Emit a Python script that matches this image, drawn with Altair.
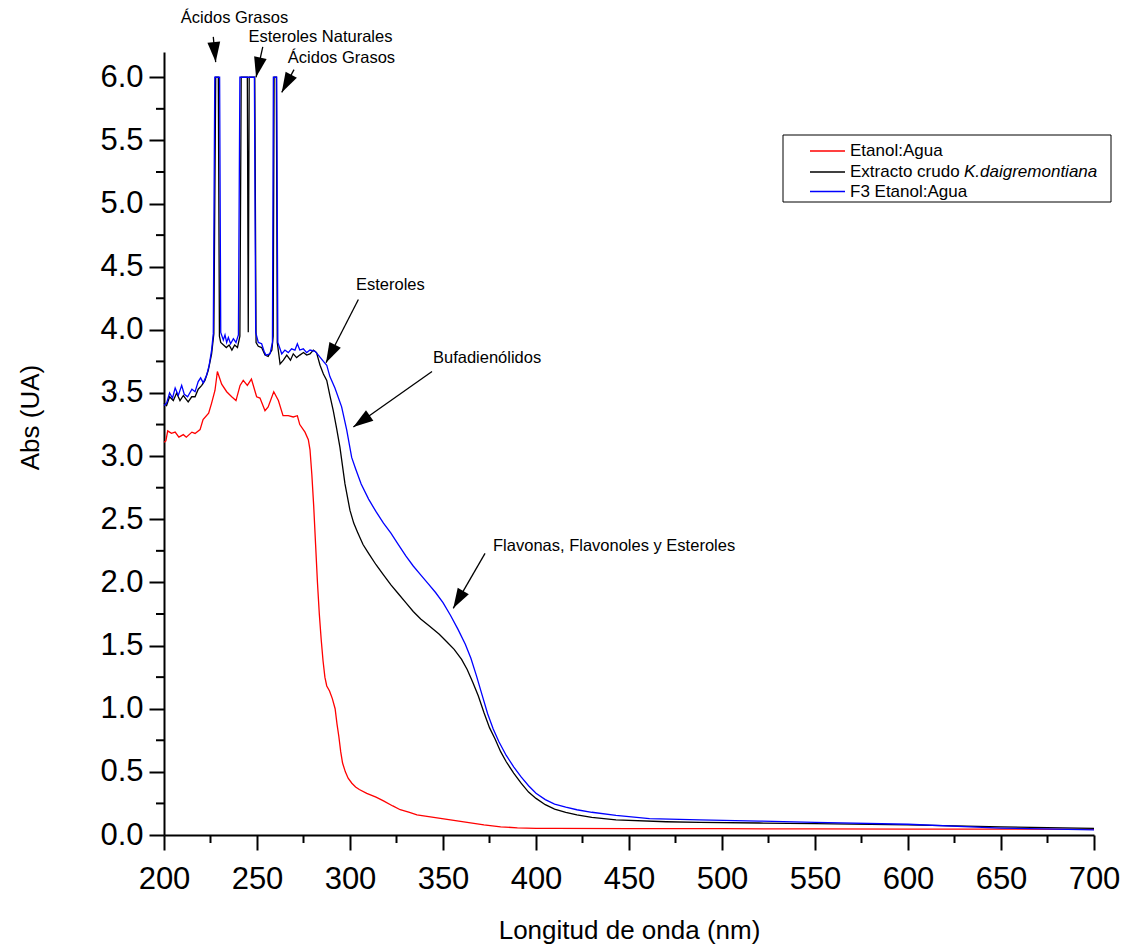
import math
import altair as alt
import pandas as pd

# ---------------- data ----------------
wl_red = [200, 201, 202, 204, 206, 208, 210.4, 212, 215, 216.7, 219.4, 221, 224, 225.6, 227.4,
          228.7, 231, 233.7, 236.4, 238.7, 240.9, 242.6, 244.8, 247, 249.8, 251.6, 254.3, 256,
          259, 261.5, 264, 266.8, 269.5, 271.7, 273, 275.8, 277.6, 278.5, 279.5, 280.5, 281.5,
          282.5, 283.5, 284.5, 285.5, 286.5, 287.5, 289, 290.5, 292, 293, 294, 295, 296, 297.5,
          299, 301, 303, 305, 309, 314, 318, 323, 327, 332, 336, 345, 354, 363, 372, 381, 390,
          400, 410, 450, 500, 550, 600, 650, 700]
abs_red = [3.11, 3.12, 3.20, 3.18, 3.19, 3.15, 3.17, 3.15, 3.19, 3.18, 3.21, 3.29, 3.34, 3.42, 3.52,
           3.67, 3.57, 3.51, 3.47, 3.44, 3.56, 3.60, 3.56, 3.61, 3.47, 3.46, 3.36, 3.39,
           3.51, 3.44, 3.32, 3.32, 3.31, 3.32, 3.25, 3.19, 3.13, 3.05, 2.85, 2.60, 2.30,
           2.00, 1.75, 1.55, 1.38, 1.25, 1.18, 1.14, 1.08, 1.00, 0.88, 0.78, 0.66, 0.57, 0.50,
           0.45, 0.41, 0.38, 0.36, 0.33, 0.30, 0.27, 0.23, 0.20, 0.18, 0.16, 0.14, 0.12, 0.10, 0.08, 0.065, 0.057,
           0.053, 0.052, 0.05, 0.05, 0.048, 0.047, 0.046, 0.045]

wl_blk = [200, 201.4, 203, 205, 206.8, 208.6, 210.4, 213, 214.9, 216.7, 218.4, 220.3, 222, 223.8,
          225.6, 226.8, 227.8, 229.2, 229.8, 230.5, 232, 233.5, 235, 236.5, 238, 239.5, 240.8,
          241.5, 244.8, 245.3, 245.8, 248.8, 249.5, 250.7, 252.5, 254.3, 256, 258, 258.7, 259.2,
          260.4, 260.9, 262.4, 264.2, 266, 268, 269.5, 271.3, 273, 275, 276.7, 278.5, 280.3, 282,
          283.9, 285.7, 287.5, 289.2, 291, 292.8, 294.6, 297.3, 300, 302, 304, 307, 310, 314,
          318, 322, 326, 330, 334, 338, 343, 348, 352, 356, 360, 363, 366, 369, 372, 375, 378,
          381, 384, 388, 392, 396, 400, 405, 410, 416, 422, 430, 443, 470, 488, 520, 550, 600,
          650, 700]
abs_blk = [3.42, 3.40, 3.47, 3.44, 3.50, 3.44, 3.48, 3.43, 3.47, 3.47, 3.53, 3.56, 3.60, 3.68,
           3.81, 3.97, 6.0, 6.0, 3.95, 3.90, 3.88, 3.86, 3.88, 3.84, 3.88, 3.86, 3.95,
           6.0, 6.0, 3.98, 6.0, 6.0, 3.90, 3.87, 3.86, 3.80, 3.79, 3.84, 3.95, 6.0,
           6.0, 3.90, 3.73, 3.76, 3.80, 3.76, 3.81, 3.78, 3.80, 3.82, 3.80, 3.81, 3.84, 3.82,
           3.72, 3.65, 3.60, 3.48, 3.36, 3.22, 3.07, 2.78, 2.57, 2.47, 2.40, 2.30, 2.23, 2.14,
           2.06, 1.98, 1.91, 1.84, 1.77, 1.71, 1.65, 1.59, 1.53, 1.47, 1.39, 1.31, 1.21, 1.10,
           0.97, 0.85, 0.76, 0.66, 0.58, 0.49, 0.41, 0.34, 0.29, 0.24, 0.205, 0.18, 0.16, 0.14,
           0.12, 0.105, 0.10, 0.095, 0.09, 0.08, 0.065, 0.053]

wl_blu = [200, 201.4, 203, 204.6, 206, 207.7, 209.5, 210.9, 212.7, 215, 216.7, 218.4, 219.7, 221.1,
          222.9, 224.3, 225.6, 226.5, 227.3, 229.9, 230.5, 231.9, 232.8, 233.7, 234.6, 235.8, 237.3,
          238.7, 240, 240.8, 248.6, 249.3, 250.7, 252.5, 253.8, 254.8, 257, 258.3, 258.8, 260.6,
          261.2, 263.3, 265, 266.8, 268.6, 270.4, 271.7, 273, 274.9, 276.7, 278.5, 281.2, 283,
          285.7, 287.5, 289.2, 291.9, 295.5, 298.2, 300.9, 303, 306, 310, 314, 318, 322, 326,
          330, 334, 338, 342, 346, 350, 354, 358, 362, 365, 368, 371, 374, 377, 380, 384, 388,
          392, 396, 400, 405, 410, 416, 422, 430, 443, 461, 488, 520, 550, 600, 650, 700]
abs_blu = [3.40, 3.42, 3.50, 3.46, 3.54, 3.48, 3.56, 3.49, 3.47, 3.53, 3.51, 3.59, 3.62, 3.58,
           3.64, 3.72, 3.84, 3.97, 6.0, 6.0, 3.98, 3.92, 3.96, 3.90, 3.94, 3.89, 3.93,
           3.90, 3.96, 6.0, 6.0, 3.98, 3.90, 3.89, 3.83, 3.80, 3.81, 3.90, 6.0, 6.0,
           3.90, 3.81, 3.84, 3.82, 3.85, 3.84, 3.89, 3.84, 3.85, 3.82, 3.84, 3.83, 3.80,
           3.75, 3.72, 3.63, 3.54, 3.39, 3.21, 2.99, 2.90, 2.78, 2.66, 2.56, 2.47, 2.39, 2.30,
           2.21, 2.13, 2.06, 1.99, 1.92, 1.84, 1.74, 1.63, 1.51, 1.40, 1.26, 1.11, 0.96, 0.84,
           0.74, 0.63, 0.54, 0.46, 0.39, 0.33, 0.28, 0.245, 0.22, 0.20, 0.18, 0.155, 0.13, 0.12,
           0.11, 0.10, 0.085, 0.055, 0.04]

series_names = ["Etanol:Agua", "Extracto crudo ", "F3 Etanol:Agua"]
series_colors = ["#ff0000", "#000000", "#0000ff"]
legend_italic = "K.daigremontiana"

x_major = list(range(200, 701, 50))
x_minor = list(range(225, 700, 50))
y_major = [i * 0.5 for i in range(13)]
y_minor = [0.25 + i * 0.5 for i in range(12)]

# annotations: text, x, y, align
ann_text = ["Ácidos Grasos", "Esteroles Naturales", "Ácidos Grasos", "Esteroles",
            "Bufadienólidos", "Flavonas, Flavonoles y Esteroles"]
ann_x = [237.9, 284.1, 295.4, 303.2, 344.6, 376.9]
ann_y = [6.47, 6.315, 6.15, 4.355, 3.777, 2.29]
ann_align = ["center", "center", "center", "left", "left", "left"]
# arrows: tail -> tip
arr_x1 = [226.5, 253.1, 269.9, 304.5, 344.1, 372.6]
arr_y1 = [6.32, 6.24, 6.06, 4.24, 3.67, 2.23]
arr_x2 = [227.8, 249.5, 263.3, 287.1, 301.8, 355.5]
arr_y2 = [6.12, 6.0, 5.88, 3.74, 3.23, 1.795]

# ---------------- layout ----------------
W, H = 930, 783
XMIN, XMAX = 200, 700
YMIN, YMAX = 0, 6.2
FONT = "Liberation Sans"
PX_X = W / (XMAX - XMIN)
PX_Y = H / (YMAX - YMIN)

xscale = alt.Scale(domain=[XMIN, XMAX], nice=False, zero=False)
yscale = alt.Scale(domain=[YMIN, YMAX], nice=False, zero=False)

common_axis = dict(grid=False, tickWidth=2, domainWidth=2, domainColor="black", tickColor="black",
                   labelColor="black", titleColor="black", labelFont=FONT, titleFont=FONT,
                   titleFontWeight="normal", labelFlush=False, labelOverlap=False)
xaxis = alt.Axis(values=x_major, title="Longitud de onda (nm)", tickSize=15, labelFontSize=31,
                 labelPadding=14, titleFontSize=26, titlePadding=23, **common_axis)
yaxis = alt.Axis(values=y_major, format=".1f", title="Abs (UA)", tickSize=15, labelFontSize=31,
                 labelPadding=6, titleFontSize=26, titleX=-134, titleY=365,
                 titleBaseline="middle", titleAngle=270, **common_axis)

X = lambda f: alt.X(f, scale=xscale, axis=xaxis)
Y = lambda f: alt.Y(f, scale=yscale, axis=yaxis)


def series(wl, ab, color):
    df = pd.DataFrame({"wl": wl, "ab": ab, "i": list(range(len(wl)))})
    return alt.Chart(df).mark_line(color=color, strokeWidth=1.3).encode(
        x=X("wl:Q"), y=Y("ab:Q"), order="i:Q")


layers = [
    series(wl_red, abs_red, series_colors[0]),
    series(wl_blk, abs_blk, series_colors[1]),
    series(wl_blu, abs_blu, series_colors[2]),
]

# minor ticks
layers.append(alt.Chart(pd.DataFrame({"v": x_minor})).mark_rule(color="black", strokeWidth=2).encode(
    x=X("v:Q"), y=alt.value(H), y2=alt.value(H + 8)))
layers.append(alt.Chart(pd.DataFrame({"v": y_minor})).mark_rule(color="black", strokeWidth=2).encode(
    y=Y("v:Q"), x=alt.value(0), x2=alt.value(-8)))

# annotations
ann_df = pd.DataFrame({"t": ann_text, "x": ann_x, "y": ann_y, "al": ann_align})
for al in ["center", "left"]:
    layers.append(alt.Chart(ann_df).transform_filter(alt.datum.al == al).mark_text(
        align=al, baseline="middle", font=FONT, fontSize=16.5, color="black").encode(
        x=X("x:Q"), y=Y("y:Q"), text="t:N"))

angles = []
for a, b, c, d in zip(arr_x1, arr_y1, arr_x2, arr_y2):
    dx = (c - a) * PX_X
    dy = -(d - b) * PX_Y
    angles.append(math.degrees(math.atan2(dx, -dy)) % 360)
arr_df = pd.DataFrame({"x": arr_x1, "y": arr_y1, "x2": arr_x2, "y2": arr_y2, "ang": angles})
layers.append(alt.Chart(arr_df).mark_rule(color="black", strokeWidth=1.3).encode(
    x=X("x:Q"), y=Y("y:Q"), x2="x2:Q", y2="y2:Q"))
layers.append(alt.Chart(arr_df).mark_point(
    shape="M0,0L0.64,2L-0.64,2Z", filled=True, size=400, color="black", opacity=1, strokeWidth=0).encode(
    x=X("x2:Q"), y=Y("y2:Q"), angle=alt.Angle("ang:Q", scale=None)))

# legend box
LX0, LX1, LY0, LY1 = 619, 947, 83, 150
ROW_Y = [99, 120, 139.5]
layers.append(alt.Chart(pd.DataFrame({"a": [0]})).mark_rect(
    fill="white", stroke="black", strokeWidth=1).encode(
    x=alt.value(LX0), x2=alt.value(LX1), y=alt.value(LY0), y2=alt.value(LY1)))
for name, col, ry in zip(series_names, series_colors, ROW_Y):
    rowdf = pd.DataFrame({"t": [name]})
    layers.append(alt.Chart(rowdf).mark_rule(color=col, strokeWidth=1.3).encode(
        x=alt.value(646), x2=alt.value(681), y=alt.value(ry)))
    layers.append(alt.Chart(rowdf).mark_text(
        align="left", baseline="middle", font=FONT, fontSize=17, color="black").encode(
        x=alt.value(686), y=alt.value(ry), text="t:N"))
layers.append(alt.Chart(pd.DataFrame({"t": [legend_italic]})).mark_text(
    align="left", baseline="middle", font=FONT, fontSize=17, fontStyle="italic", color="black").encode(
    x=alt.value(686 + 114), y=alt.value(ROW_Y[1]), text="t:N"))

chart = alt.layer(*layers).properties(
    width=W, height=H,
    padding={"left": 156, "top": 44, "right": 30, "bottom": 116},
    autosize=alt.AutoSizeParams(type="none"),
).configure_view(stroke=None)

chart.save("out.html", embed_options={"renderer": "svg", "actions": False})
